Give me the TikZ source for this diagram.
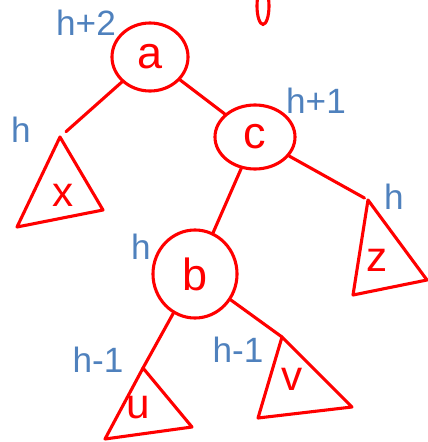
\documentclass[tikz,border=0pt]{standalone}
\usepackage{fontspec}
\setmainfont{Liberation Sans}
\usetikzlibrary{shapes.geometric}

\definecolor{inkred}{RGB}{255,0,0}
\definecolor{inkblue}{RGB}{79,129,189}

\tikzset{
  key/.style={ellipse, draw=inkred, line width=2.2pt, text=inkred,
    font=\fontsize{32}{34}\selectfont, inner sep=0pt},
  branch/.style={draw=inkred, line width=2.2pt, line cap=round},
  subtree/.style={draw=inkred, line width=2.2pt, line join=round},
  subname/.style={text=inkred, font=\fontsize{30}{32}\selectfont},
  height/.style={text=inkblue, font=\fontsize{25}{27}\selectfont},
}

\begin{document}
\begin{tikzpicture}[x=0.025cm, y=-0.025cm]
    \useasboundingbox (0,0) rectangle (428,442);

    % Draw the keys
    \node[key, minimum width=1.9cm, minimum height=1.7cm] (a) at (150,57) {a};
    \node[key, minimum width=2.0cm, minimum height=1.6cm] (c) at (255,137) {c};
    \node[key, minimum width=2.1cm, minimum height=2.2cm] (b) at (195,274) {b};

    % Tops of the subtrees
    \coordinate (xtop) at (60,137);
    \coordinate (ztop) at (368,200);
    \coordinate (utop) at (143,368);
    \coordinate (vtop) at (282,337);

    % Draw the subtrees
    \draw[subtree] (xtop) -- (17,227) -- (103,210) -- cycle;
    \draw[subtree] (ztop) -- (353,295) -- (427,280) -- cycle;
    \draw[subtree] (utop) -- (105,439) -- (192,427) -- cycle;
    \draw[subtree] (vtop) -- (258,418) -- (352,407) -- cycle;
    \node[subname] (x) at (63,195) {x};
    \node[subname] (z) at (377,260) {z};
    \node[subname] (u) at (138,408) {u};
    \node[subname] (v) at (292,379) {v};

    % Draw the branches
    \draw[branch, shorten >=0.2cm] (a) -- (xtop);
    \draw[branch] (a) -- (c);
    \draw[branch] (c) -- (b);
    \draw[branch, shorten >=0.1cm] (c) -- (ztop);
    \draw[branch] (b) -- (utop);
    \draw[branch] (b) -- (vtop);

    % Heights
    \node[height] (ha) at (86,23) {h+2};
    \node[height] (hx) at (21,130) {h};
    \node[height] (hc) at (316,101) {h+1};
    \node[height] (hz) at (394,197) {h};
    \node[height] (hb) at (141,247) {h};
    \node[height] (hu) at (98,360) {h-1};
    \node[height] (hv) at (238,350) {h-1};

    % Stray stroke at the top
    \draw[branch] (263,6) ellipse (0.15cm and 0.46cm);
\end{tikzpicture}
\end{document}
